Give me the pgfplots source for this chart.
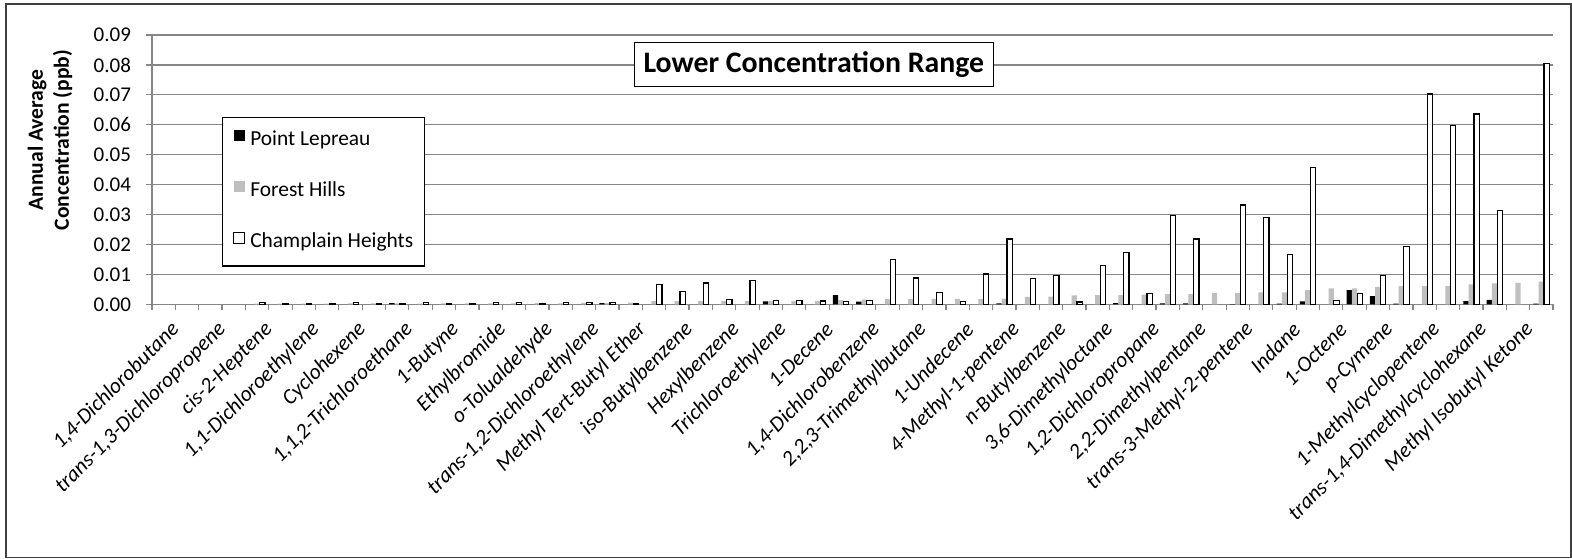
\documentclass[border=0pt]{standalone}
\usepackage{fontspec}
\setmainfont{Carlito}
\usepackage{pgfplots}
\pgfplotsset{compat=1.18}
\definecolor{gridgray}{RGB}{134,134,134}
\definecolor{fhgray}{RGB}{191,191,191}
\definecolor{framegray}{RGB}{64,64,64}

\begin{document}
\begin{tikzpicture}[x=0.5pt,y=0.5pt]
\useasboundingbox (0,0) rectangle (1572,558);
\begin{axis}[
    at={(76pt,126.85pt)}, anchor=south west,
    scale only axis, width=700.5pt, height=134.65pt,
    xmin=-0.5, xmax=59.5, ymin=0, ymax=0.09,
    enlargelimits=false,
    ybar=0pt, bar width=2.65pt,
    axis lines*=left,
    axis line style={gridgray, line width=0.6pt},
    ymajorgrids, grid style={gridgray, line width=0.6pt},
    tick align=outside, major tick length=3pt,
    tick style={gridgray, line width=0.6pt},
    ytick={0,0.01,0.02,0.03,0.04,0.05,0.06,0.07,0.08,0.09},
    scaled y ticks=false,
    /pgf/number format/assume math mode=true,
    yticklabel style={/pgf/number format/fixed, /pgf/number format/fixed zerofill,
        /pgf/number format/precision=2, font=\fontsize{10.5}{12}\selectfont, xshift=-4pt},
    xtick={-0.5,0.5,...,59.5}, xticklabel={\relax},
    extra x ticks={0,2,...,58},
    extra x tick labels={{1,4-Dichlorobutane},{trans-1,3-Dichloropropene},{cis-2-Heptene},
        {1,1-Dichloroethylene},{Cyclohexene},{1,1,2-Trichloroethane},{1-Butyne},{Ethylbromide},
        {o-Tolualdehyde},{trans-1,2-Dichloroethylene},{Methyl Tert-Butyl Ether},{iso-Butylbenzene},
        {Hexylbenzene},{Trichloroethylene},{1-Decene},{1,4-Dichlorobenzene},{2,2,3-Trimethylbutane},
        {1-Undecene},{4-Methyl-1-pentene},{n-Butylbenzene},{3,6-Dimethyloctane},{1,2-Dichloropropane},
        {2,2-Dimethylpentane},{trans-3-Methyl-2-pentene},{Indane},{1-Octene},{p-Cymene},
        {1-Methylcyclopentene},{trans-1,4-Dimethylcyclohexane},{Methyl Isobutyl Ketone}},
    extra x tick style={major tick length=0pt,
        xticklabel style={rotate=45, anchor=east, font=\fontsize{10.8}{12}\selectfont\itshape, yshift=-12pt}},
    ylabel={Annual Average\\Concentration (ppb)},
    ylabel style={at={(axis description cs:-0.0728,0.610)}, anchor=center, align=center,
        font=\fontsize{10.8}{12.9}\selectfont\bfseries},
    legend cell align=left,
    legend style={at={(axis description cs:0.0497,0.6966)}, anchor=north west,
        draw=black, line width=0.7pt, fill=white,
        inner xsep=5.5pt, inner ysep=6.5pt, row sep=15.5pt, column sep=2.5pt,
        font=\fontsize{10.7}{12}\selectfont,
        nodes={inner sep=0pt, text height=7.5pt, text depth=2.5pt}},
]

\addplot[fill=black, draw=none,
    legend image code/.code={\fill[black] (0pt,-0.5pt) rectangle (5.5pt,5pt);}] coordinates {
(10,0.0004)(19,0.0004)(26,0.0010)(29,0.0031)(30,0.0009)(36,0.0003)(41,0.0004)(43,0.0003)
(44,0.0003)(46,0.0001)(48,0.0002)(49,0.0010)(51,0.0047)(52,0.0027)(53,0.0002)(56,0.0011)
(57,0.0015)(59,0.0002)};

\addplot[fill=fhgray, draw=none,
    legend image code/.code={\fill[fhgray] (0pt,-0.5pt) rectangle (5.5pt,5pt);}] coordinates {
(4,0.0002)(5,0.0002)(6,0.0002)(7,0.0002)(8,0.0003)(9,0.0003)(10,0.0003)(11,0.0002)
(12,0.0003)(13,0.0003)(14,0.0003)(15,0.0003)(16,0.0004)(17,0.0003)(18,0.0005)(19,0.0004)
(20,0.0006)(21,0.0011)(22,0.0011)(23,0.0011)(24,0.0011)(25,0.0011)(26,0.0011)(27,0.0011)
(28,0.0011)(29,0.0014)(30,0.0016)(31,0.0017)(32,0.0017)(33,0.0018)(34,0.0018)(35,0.0018)
(36,0.0019)(37,0.0025)(38,0.0026)(39,0.0030)(40,0.0031)(41,0.0031)(42,0.0032)(43,0.0034)
(44,0.0034)(45,0.0037)(46,0.0037)(47,0.0040)(48,0.0040)(49,0.0047)(50,0.0053)(51,0.0053)
(52,0.0058)(53,0.0061)(54,0.0061)(55,0.0062)(56,0.0067)(57,0.0070)(58,0.0072)(59,0.0076)};

\addplot[fill=white, draw=black, line width=0.6pt,
    legend image code/.code={\draw[black, fill=white, line width=0.5pt] (0pt,-0.5pt) rectangle (5.5pt,5pt);}] coordinates {
(4,0.0006)(5,0.0003)(6,0.0003)(7,0.0003)(8,0.0007)(9,0.0004)(10,0.0004)(11,0.0005)
(12,0.0004)(13,0.0004)(14,0.0006)(15,0.0006)(16,0.0002)(17,0.0006)(18,0.0006)(19,0.0007)
(20,0.0004)(21,0.0066)(22,0.0042)(23,0.0071)(24,0.0016)(25,0.0079)(26,0.0014)(27,0.0014)
(28,0.0011)(29,0.0009)(30,0.0014)(31,0.0150)(32,0.0088)(33,0.0039)(34,0.0009)(35,0.0101)
(36,0.0218)(37,0.0087)(38,0.0097)(39,0.0008)(40,0.0130)(41,0.0172)(42,0.0036)(43,0.0298)
(44,0.0218)(46,0.0332)(47,0.0291)(48,0.0167)(49,0.0457)(50,0.0014)(51,0.0037)(52,0.0095)
(53,0.0193)(54,0.0703)(55,0.0598)(56,0.0636)(57,0.0313)(59,0.0805)};

\legend{Point Lepreau,Forest Hills,Champlain Heights}
\end{axis}
\node[draw=black, line width=0.7pt, fill=white, minimum width=179.5pt, minimum height=22pt,
    inner sep=0pt, font=\fontsize{14.9}{18}\selectfont\bfseries] at (813.8,493.3)
    {Lower Concentration Range};
\draw[framegray, line width=0.6pt] (6,0.4) rectangle (1571,554);
\end{tikzpicture}
\end{document}
